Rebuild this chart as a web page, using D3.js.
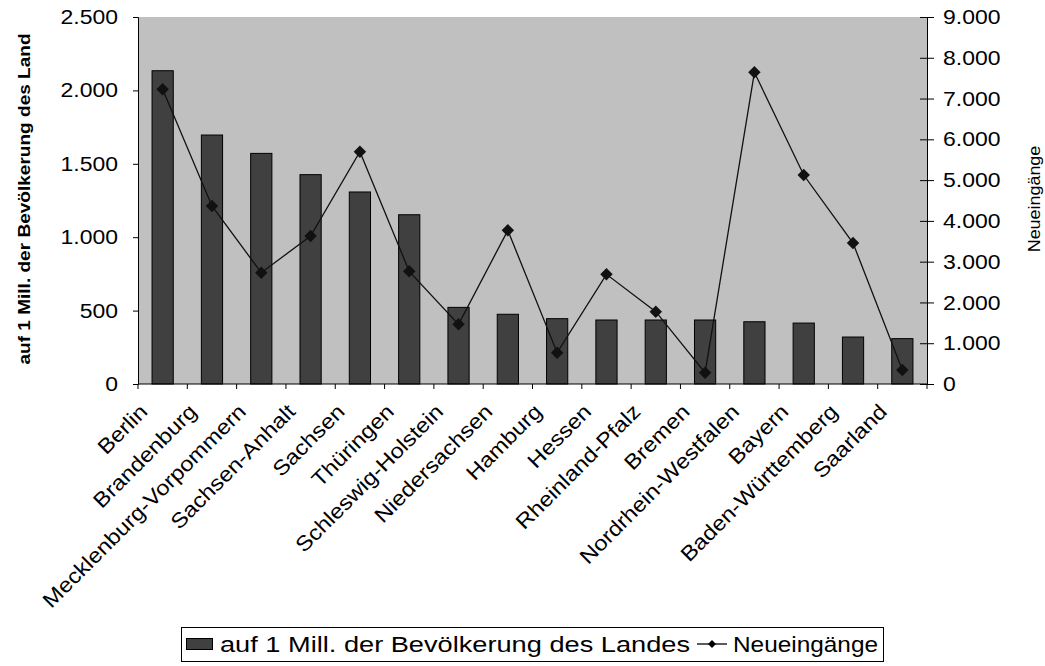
<!DOCTYPE html>
<html><head><meta charset="utf-8">
<script src="https://cdn.jsdelivr.net/npm/d3@7"></script>
<style>
body{margin:0;background:#fff;}
text{font-family:Arial,"Liberation Sans",sans-serif;fill:#000;}
</style></head>
<body>
<svg id="chart" width="1045" height="666"></svg>
<script>
const categories = ["Berlin","Brandenburg","Mecklenburg-Vorpommern","Sachsen-Anhalt","Sachsen","Thüringen","Schleswig-Holstein","Niedersachsen","Hamburg","Hessen","Rheinland-Pfalz","Bremen","Nordrhein-Westfalen","Bayern","Baden-Württemberg","Saarland"];
const perMillion = [2134,1696,1571,1426,1308,1153,522,475,445,436,436,436,424,415,320,309];
const neueingaenge = [7227,4365,2730,3629,5697,2763,1463,3768,768,2689,1774,278,7643,5125,3457,343];
const leftTicks = [0,500,1000,1500,2000,2500];
const rightTicks = [0,1000,2000,3000,4000,5000,6000,7000,8000,9000];
const barLabel = "auf 1 Mill. der Bevölkerung des Landes";
const lineLabel = "Neueingänge";
const leftTitle = "auf 1 Mill. der Bevölkerung des Land";

const svg = d3.select("#chart");
const X0=138, X1=927, Y0=17, Y1=384;
const de = d3.formatLocale({decimal:",",thousands:".",grouping:[3],currency:["","€"]});
const fmt = de.format(",");

const x = d3.scaleBand().domain(categories).range([X0,X1]).paddingInner(0).paddingOuter(0);
const yL = d3.scaleLinear().domain([0,2500]).range([Y1,Y0]);
const yR = d3.scaleLinear().domain([0,9000]).range([Y1,Y0]);

svg.append("rect").attr("x",X0).attr("y",Y0).attr("width",X1-X0).attr("height",Y1-Y0).attr("fill","#c0c0c0");

const bw = x.bandwidth()*0.43;
svg.append("g").selectAll("rect").data(categories).join("rect")
  .attr("x",d=>x(d)+x.bandwidth()/2-bw/2)
  .attr("y",(d,i)=>yL(perMillion[i]))
  .attr("width",bw)
  .attr("height",(d,i)=>Y1-yL(perMillion[i]))
  .attr("fill","#404040").attr("stroke","#000").attr("stroke-width",1);

const line = d3.line().x((d,i)=>x(categories[i])+x.bandwidth()/2).y(d=>yR(d));
svg.append("path").attr("d",line(neueingaenge)).attr("fill","none").attr("stroke","#111").attr("stroke-width",1.3);
svg.append("g").selectAll("path").data(neueingaenge).join("path")
  .attr("d",d3.symbol().type(d3.symbolSquare).size(78))
  .attr("transform",(d,i)=>`translate(${x(categories[i])+x.bandwidth()/2},${yR(d)}) rotate(45)`)
  .attr("fill","#111");

// left axis
const gL = svg.append("g").attr("transform",`translate(${X0},0)`)
  .call(d3.axisLeft(yL).tickValues(leftTicks).tickFormat(fmt).tickSize(5).tickPadding(15));
gL.selectAll("text").attr("font-size",20.5).attr("class","stretch");
// right axis
const gR = svg.append("g").attr("transform",`translate(${X1},0)`)
  .call(d3.axisRight(yR).tickValues(rightTicks).tickFormat(fmt).tickSize(7).tickPadding(9));
gR.selectAll(".tick line").attr("x1",-7);
gR.selectAll("text").attr("font-size",20.5).attr("class","stretch");
[gL,gR].forEach(g=>{g.select(".domain").attr("stroke","#000");g.selectAll("line").attr("stroke","#000");g.attr("font-family",null);});

// x axis
svg.append("line").attr("x1",X0).attr("x2",X1).attr("y1",Y1).attr("y2",Y1).attr("stroke","#000");
const bounds = categories.map(c=>x(c)).concat([X1]);
svg.append("g").selectAll("line").data(bounds).join("line")
  .attr("x1",d=>d).attr("x2",d=>d).attr("y1",Y1).attr("y2",Y1+5).attr("stroke","#000");
svg.append("g").selectAll("text").data(categories).join("text")
  .attr("class","stretch")
  .attr("text-anchor","end")
  .attr("font-size",21)
  .attr("transform",d=>`translate(${x(d)+x.bandwidth()/2-14},${Y1+29}) rotate(-45)`)
  .text(d=>d);

// axis titles
svg.append("text").attr("class","stretch").attr("font-size",17).attr("font-weight","bold").attr("text-anchor","middle")
  .attr("transform","translate(30,199) rotate(-90)").text(leftTitle);
svg.append("text").attr("class","stretch").attr("font-size",16).attr("text-anchor","middle")
  .attr("transform","translate(1040,199) rotate(-90)").text(lineLabel);

// legend
const lg = svg.append("g");
lg.append("rect").attr("x",181.5).attr("y",627.5).attr("width",702).attr("height",34).attr("fill","#fff").attr("stroke","#000");
lg.append("rect").attr("x",186.5).attr("y",638.5).attr("width",26).attr("height",11).attr("fill","#404040").attr("stroke","#000");
lg.append("text").attr("x",220).attr("y",652).attr("font-size",22).attr("textLength",470).attr("lengthAdjust","spacingAndGlyphs").text(barLabel);
lg.append("line").attr("x1",697).attr("x2",727).attr("y1",644).attr("y2",644).attr("stroke","#000").attr("stroke-width",1.3);
lg.append("path").attr("d",d3.symbol().type(d3.symbolSquare).size(32)).attr("transform","translate(712,644) rotate(45)").attr("fill","#000");
lg.append("text").attr("x",733).attr("y",652).attr("font-size",22).attr("textLength",145).attr("lengthAdjust","spacingAndGlyphs").text(lineLabel);

// Excel-like horizontal stretch
svg.selectAll("text.stretch").each(function(){
  const l=this.getComputedTextLength();
  this.setAttribute("textLength",l*1.12);
  this.setAttribute("lengthAdjust","spacingAndGlyphs");
});
</script>
</body></html>
